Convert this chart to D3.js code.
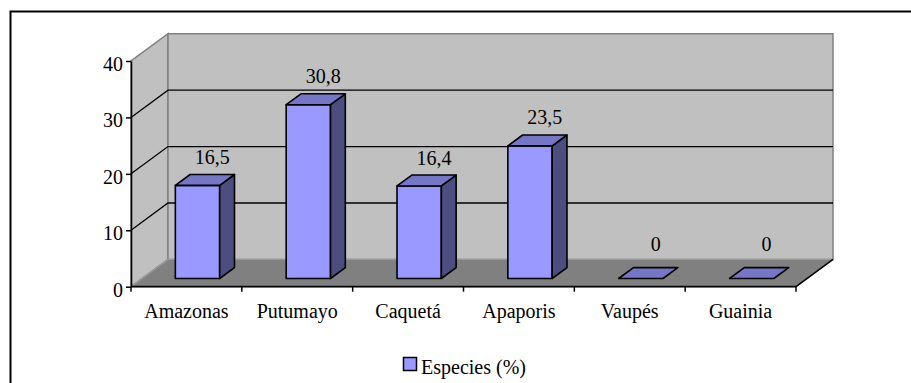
<!DOCTYPE html>
<html><head><meta charset="utf-8">
<script src="https://cdn.jsdelivr.net/npm/d3@7"></script>
<style>html,body{margin:0;padding:0;background:#fff;overflow:hidden}</style>
</head><body>
<script>
const categories = ["Amazonas","Putumayo","Caquetá","Apaporis","Vaupés","Guainia"];
const values = [16.5, 30.8, 16.4, 23.5, 0, 0];
const valueLabels = ["16,5","30,8","16,4","23,5","0","0"];
const yTicks = [0,10,20,30,40];
const seriesName = "Especies (%)";

const W = 911, H = 383;
const font = '"Liberation Serif","Times New Roman",serif';
const svg = d3.select("body").append("svg").attr("width", W).attr("height", H);

// frame
svg.append("rect").attr("x",10.5).attr("y",11.5).attr("width",1200).attr("height",1200)
  .attr("fill","#fff").attr("stroke","#000").attr("stroke-width",2);

const x0 = 131, x1 = 796;
const y = d3.scaleLinear().domain([0,40]).range([286.7,61]);
const x = d3.scaleBand().domain(categories).range([x0,x1]).paddingInner(0.6).paddingOuter(0.3);
const xb = d3.scaleLinear().domain([0,categories.length]).range([x0,x1]);
const DX = 37, DY = -27.3;
const fFront = 0.3, fBack = 0.7;
const P = (px,py,f) => [px + DX*f, py + DY*f];
const poly = pts => "M" + pts.map(p=>p.join(",")).join("L") + "Z";

const wallFill = "#c0c0c0", wallStroke = "#808080";
// side wall
svg.append("path").attr("d", poly([P(x0,y(0),0),P(x0,y(0),1),P(x0,y(40),1),P(x0,y(40),0)]))
  .attr("fill",wallFill).attr("stroke",wallStroke).attr("stroke-width",1.5);
// back wall
svg.append("path").attr("d", poly([P(x0,y(0),1),P(x1,y(0),1),P(x1,y(40),1),P(x0,y(40),1)]))
  .attr("fill",wallFill).attr("stroke",wallStroke).attr("stroke-width",1.5);
// floor
svg.append("path").attr("d", poly([P(x0,y(0),0),P(x1,y(0),0),P(x1,y(0),1),P(x0,y(0),1)]))
  .attr("fill","#808080").attr("stroke","#9a9a9a").attr("stroke-width",1.2);
// floor right edge
svg.append("line").attr("x1",x1).attr("y1",y(0)).attr("x2",P(x1,y(0),1)[0]).attr("y2",P(x1,y(0),1)[1])
  .attr("stroke","#000").attr("stroke-width",1.5);

// gridlines
const inner = yTicks.filter(t=>t>0 && t<40);
inner.forEach(t=>{
  const a = P(x0,y(t),0), b = P(x0,y(t),1), c = P(x1,y(t),1);
  svg.append("path").attr("d","M"+a.join(",")+"L"+b.join(",")+"L"+c.join(","))
    .attr("fill","none").attr("stroke","#000").attr("stroke-width",1.3);
});

// bars
const bw = x.bandwidth();
const cTop = "#7676c6", cSide = "#4d4d80", cFront = "#9999ff";
categories.forEach((c,i)=>{
  const v = values[i];
  const xl = x(c), xr = xl + bw, yb = y(0), yt = y(v);
  const g = svg.append("g").attr("stroke","#000").attr("stroke-width",1.6).attr("stroke-linejoin","round");
  if (v > 0) {
    g.append("path").attr("d", poly([P(xl,yb,fFront),P(xr,yb,fFront),P(xr,yt,fFront),P(xl,yt,fFront)])).attr("fill",cFront);
    g.append("path").attr("d", poly([P(xr,yb,fFront),P(xr,yb,fBack),P(xr,yt,fBack),P(xr,yt,fFront)])).attr("fill",cSide);
  }
  g.append("path").attr("d", poly([P(xl,yt,fFront),P(xr,yt,fFront),P(xr,yt,fBack),P(xl,yt,fBack)])).attr("fill",cTop);
  // value label
  const lp = P(xl+bw/2, yt, fBack);
  svg.append("text").attr("x",lp[0]).attr("y",lp[1] - (v>0?10.5:16.5))
    .attr("text-anchor","middle").attr("font-family",font).attr("font-size",20).text(valueLabels[i]);
});

// y axis
const yAxis = svg.append("g").attr("transform",`translate(${x0},0)`)
  .call(d3.axisLeft(y).tickValues(yTicks).tickSize(5).tickSizeOuter(0).tickPadding(3).tickFormat(d3.format("d")));
yAxis.select(".domain").attr("stroke","#000").attr("stroke-width",1.6);
yAxis.selectAll(".tick line").attr("stroke","#000").attr("stroke-width",1.5);
yAxis.selectAll("text").attr("font-family",font).attr("font-size",20).attr("fill","#000").attr("dy","0.47em");

// x axis
svg.append("line").attr("x1",x0).attr("x2",x1).attr("y1",y(0)).attr("y2",y(0)).attr("stroke","#000").attr("stroke-width",1.8);
d3.range(categories.length+1).forEach(i=>{
  svg.append("line").attr("x1",xb(i)).attr("x2",xb(i)).attr("y1",y(0)).attr("y2",y(0)+5)
    .attr("stroke","#000").attr("stroke-width",1.5);
});
categories.forEach((c,i)=>{
  svg.append("text").attr("x",(xb(i)+xb(i+1))/2).attr("y",318).attr("text-anchor","middle")
    .attr("font-family",font).attr("font-size",20).text(c);
});

// legend
svg.append("rect").attr("x",403.5).attr("y",357.5).attr("width",13).attr("height",13)
  .attr("fill",cFront).attr("stroke","#000").attr("stroke-width",1.5);
svg.append("text").attr("x",421).attr("y",373.5).attr("font-family",font).attr("font-size",20).text(seriesName);
</script>
</body></html>
